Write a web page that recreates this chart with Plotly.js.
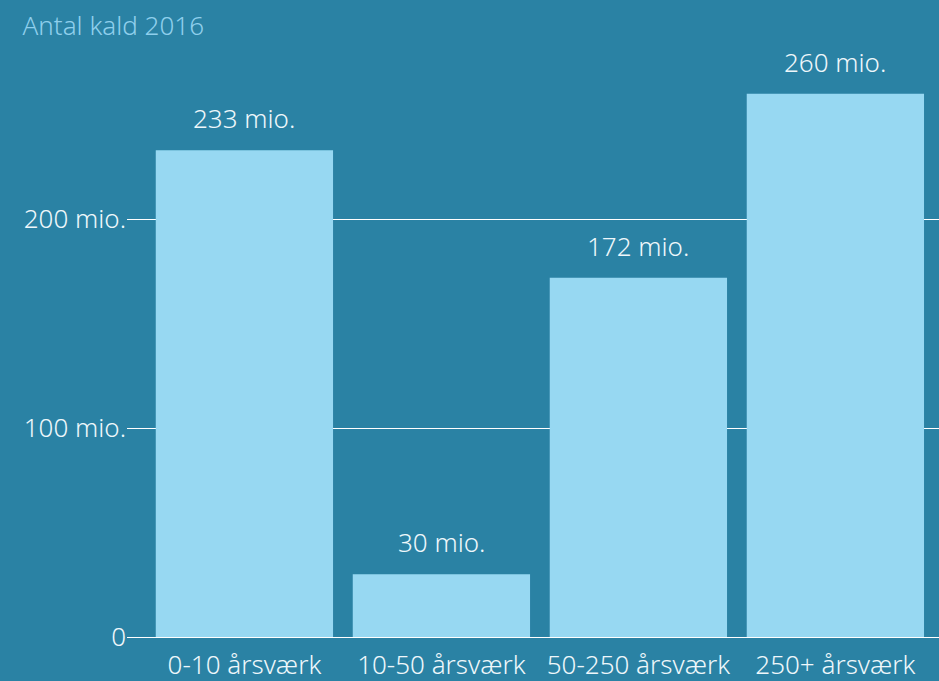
<!DOCTYPE html>
<html>
<head>
<meta charset="utf-8">
<script src="https://cdn.plot.ly/plotly-3.0.1.min.js"></script>
<style>html,body{margin:0;padding:0;background:#2a82a4;}#chart{width:939px;height:681px;}</style>
</head>
<body>
<div id="chart"></div>
<script>
const categories = ["0-10 årsværk", "10-50 årsværk", "50-250 årsværk", "250+ årsværk"];
const values = [233, 30, 172, 260];
const valueLabels = ["233 mio.", "30 mio.", "172 mio.", "260 mio."];
const yTickVals = [0, 100, 200];
const yTickText = ["0", "100 mio.", "200 mio."];

const bg = "#2a82a4";
const barColor = "#97d8f2";
const textColor = "#eef7fb";
const fontFam = "'Noto Sans', 'Open Sans', sans-serif";

const trace = {
  type: "bar",
  x: categories,
  y: values,
  marker: {color: barColor, line: {width: 0}},
  hoverinfo: "none"
};

const annotations = categories.map((c, i) => ({
  x: c, y: values[i], xref: "x", yref: "y",
  text: valueLabels[i], showarrow: false,
  yanchor: "bottom", yshift: 12,
  font: {family: fontFam, size: 26, weight: 300, color: textColor}
}));

const layout = {
  width: 939, height: 681,
  paper_bgcolor: bg, plot_bgcolor: bg,
  margin: {l: 127, r: 0, t: 52, b: 44},
  showlegend: false,
  bargap: 0.1,
  title: {text: "Antal kald 2016", x: 0.024, xanchor: "left", y: 0.962, yanchor: "middle",
          font: {family: fontFam, size: 26, weight: 300, color: "#8fcfec"}},
  xaxis: {
    type: "category",
    range: [-0.596, 3.526],
    showgrid: false, zeroline: false,
    showline: true, linecolor: "#ffffff", linewidth: 1,
    ticks: "",
    tickfont: {family: fontFam, size: 26, weight: 300, color: textColor},
    ticklabelstandoff: 5,
    layer: "above traces",
    fixedrange: true
  },
  yaxis: {
    range: [0, 280],
    tickvals: yTickVals, ticktext: yTickText,
    showgrid: true, gridcolor: "#ffffff", gridwidth: 1,
    zeroline: false, showline: false, ticks: "",
    tickfont: {family: fontFam, size: 26, weight: 300, color: textColor},
    ticklabelstandoff: 0,
    fixedrange: true
  },
  annotations: annotations
};

Plotly.newPlot("chart", [trace], layout, {displayModeBar: false, staticPlot: true});
</script>
</body>
</html>
